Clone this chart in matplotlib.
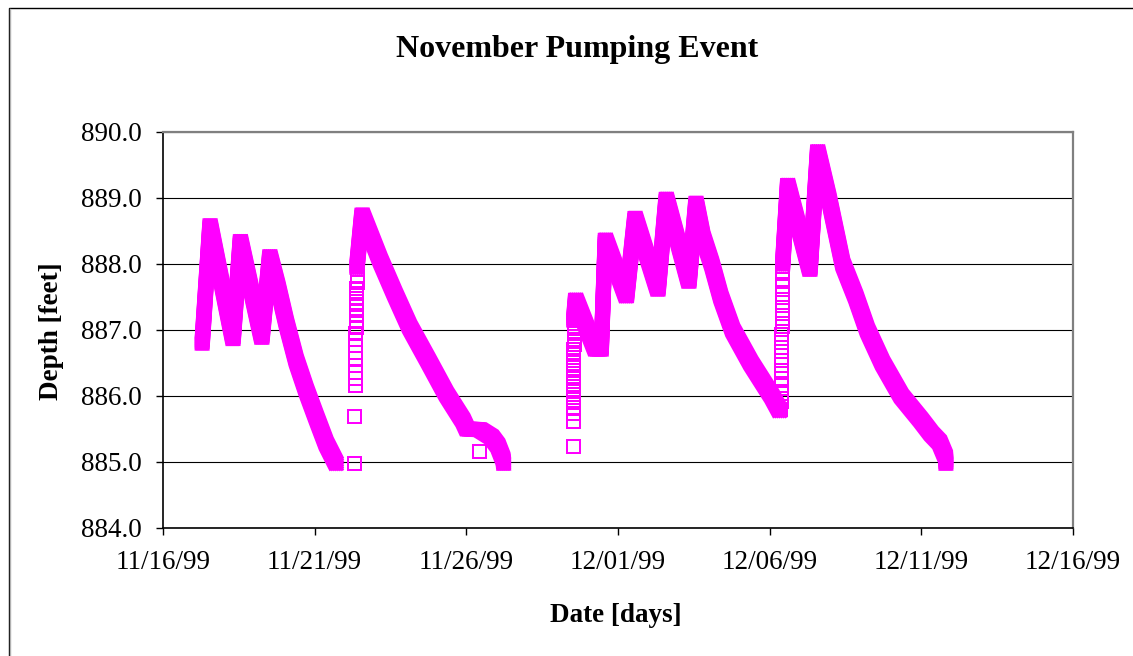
import datetime as dt
import numpy as np
import matplotlib
matplotlib.use("Agg")
import matplotlib.pyplot as plt
import matplotlib.dates as mdates
import matplotlib.patheffects as pe
from matplotlib.patches import Rectangle
from matplotlib.lines import Line2D

plt.rcParams['font.family'] = ['Liberation Serif', 'DejaVu Serif']

W, H, DPI = 1133, 656, 100
PX = 72 / DPI          # points per pixel
MAGENTA = '#FF00FF'
START = dt.datetime(1999, 11, 16)

# logger readings, days after 11/16/99 and depth in feet
# dense stretches (drawn as a solid band of markers)
a_day = [1.29, 1.55, 2.31, 2.55, 3.26, 3.52, 3.79, 4.07, 4.39, 4.72, 5.05, 5.38, 5.71]
a_depth = [886.80, 888.60, 886.85, 888.36, 886.87, 888.13, 887.65, 887.10,
           886.54, 886.09, 885.68, 885.28, 884.98]

b_day = [6.39, 6.56, 7.16, 7.64, 8.13, 8.74, 9.34, 9.89, 10.02, 10.45,
         10.83, 11.04, 11.21, 11.23]
b_depth = [887.95, 888.76, 888.06, 887.55, 887.05, 886.54, 886.03, 885.63,
           885.50, 885.49, 885.38, 885.25, 885.05, 884.98]

d_day = [13.54, 13.60, 14.25, 14.45, 14.58, 15.28, 15.56, 16.32, 16.59, 17.34,
         17.57, 17.80, 18.09, 18.39, 18.78, 19.38, 20.07, 20.33]
d_depth = [887.15, 887.47, 886.71, 886.71, 888.38, 887.50, 888.71, 887.60,
           889.00, 887.72, 888.94, 888.41, 888.00, 887.50, 887.00, 886.50,
           886.00, 885.78]

e_day = [20.43, 20.59, 21.33, 21.58, 21.95, 22.41, 22.84, 23.22, 23.72,
         24.34, 24.98, 25.33, 25.60, 25.80, 25.81]
e_depth = [888.00, 889.21, 887.90, 889.72, 889.00, 888.00, 887.50, 887.00,
           886.50, 886.00, 885.64, 885.43, 885.30, 885.08, 884.98]

# sparse readings: single points and the quick rises after pumping stops
p_day = [6.29, 6.30, 10.42, 13.53]
p_depth = [884.99, 885.70, 885.17, 885.24]

rise_b_day = [6.32, 6.32, 6.32, 6.33, 6.33, 6.33, 6.34, 6.34, 6.34, 6.35,
              6.35, 6.35, 6.36, 6.36, 6.36, 6.37, 6.37, 6.38, 6.38]
rise_b_depth = [886.17, 886.27, 886.37, 886.47, 886.57, 886.67, 886.77,
                886.86, 886.95, 887.04, 887.13, 887.22, 887.31, 887.40,
                887.48, 887.56, 887.64, 887.72, 887.82]

rise_c_day = [13.52, 13.52, 13.52, 13.52, 13.52, 13.52, 13.52, 13.53, 13.53,
              13.53, 13.53, 13.53, 13.53, 13.53, 13.54, 13.54, 13.54, 13.54,
              13.54]
rise_c_depth = [885.62, 885.74, 885.83, 885.91, 885.99, 886.07, 886.15,
                886.23, 886.31, 886.39, 886.47, 886.55, 886.63, 886.71,
                886.79, 886.87, 886.95, 887.03, 887.11]

rise_e_day = [20.35, 20.36, 20.36, 20.37, 20.37, 20.38, 20.38, 20.39, 20.39,
              20.39, 20.40, 20.40, 20.40, 20.41, 20.41, 20.41, 20.42, 20.42]
rise_e_depth = [885.80, 885.92, 886.04, 886.16, 886.28, 886.40, 886.54,
                886.68, 886.82, 886.94, 887.06, 887.18, 887.30, 887.42,
                887.54, 887.66, 887.78, 887.90]

y_ticks = [884, 885, 886, 887, 888, 889, 890]
x_tick_days = [0, 5, 10, 15, 20, 25, 30]


def to_x(days):
    return mdates.date2num(START) + np.asarray(days)


fig = plt.figure(figsize=(W / DPI, H / DPI), dpi=DPI)
ax = fig.add_axes([163 / W, 1 - 528 / H, 910 / W, 396 / H])

# the dense record looks like a square marker dragged along the curve:
# stroke one thin line many times, shifted over the area of that square
shifts = [-6, -4, -2, 0, 2, 4, 6]
band_fx = [pe.Stroke(offset=(dx * PX, dy * PX)) for dx in shifts for dy in shifts]
for days, depth in [(a_day, a_depth), (b_day, b_depth),
                    (d_day, d_depth), (e_day, e_depth)]:
    ax.plot(to_x(days), depth, color=MAGENTA, lw=3 * PX,
            solid_capstyle='projecting', solid_joinstyle='miter',
            path_effects=band_fx, zorder=3)

for days, depth in [(p_day, p_depth), (rise_b_day, rise_b_depth),
                    (rise_c_day, rise_c_depth), (rise_e_day, rise_e_depth)]:
    ax.plot(to_x(days), depth, ls='none', marker='s', ms=13 * PX,
            mfc='none', mec=MAGENTA, mew=2 * PX, zorder=3)

ax.set_xlim(to_x(0), to_x(30))
ax.set_ylim(884, 890)
ax.set_yticks(y_ticks)
ax.yaxis.set_major_formatter(plt.FormatStrFormatter('%.1f'))
ax.set_xticks(to_x(x_tick_days))
ax.xaxis.set_major_formatter(mdates.DateFormatter('%m/%d/%y'))

ax.grid(axis='y', color='black', lw=0.8)
ax.set_axisbelow(True)
ax.tick_params(direction='out', length=5, width=1, labelsize=19.5,
               colors='black')
ax.tick_params(axis='y', pad=10)
ax.tick_params(axis='x', pad=11)
for side in ('top', 'right'):
    ax.spines[side].set_color('#808080')
    ax.spines[side].set_linewidth(1.6)
for side in ('left', 'bottom'):
    ax.spines[side].set_color('black')
    ax.spines[side].set_linewidth(1.2)

fig.text(577 / W, 1 - 50 / H, 'November Pumping Event', ha='center',
         va='center', fontsize=23, fontweight='bold')
fig.text(616 / W, 1 - 615 / H, 'Date [days]', ha='center', va='center',
         fontsize=19.5, fontweight='bold')
fig.text(52 / W, 1 - 331 / H, 'Depth [feet]', ha='center', va='center',
         rotation=90, fontsize=19.5, fontweight='bold')

# chart frame, cut off at the right and bottom edges
fig.add_artist(Rectangle((8.5 / W, -0.1), 1.2, 1.1 - 7.5 / H,
                         transform=fig.transFigure, fill=False,
                         ec='black', lw=1.0))
fig.add_artist(Line2D([10.5 / W, 10.5 / W], [0, 1 - 9 / H],
                      transform=fig.transFigure, color='#b0b0b0', lw=1.0))

fig.savefig('out.png', dpi=DPI, facecolor='white')
